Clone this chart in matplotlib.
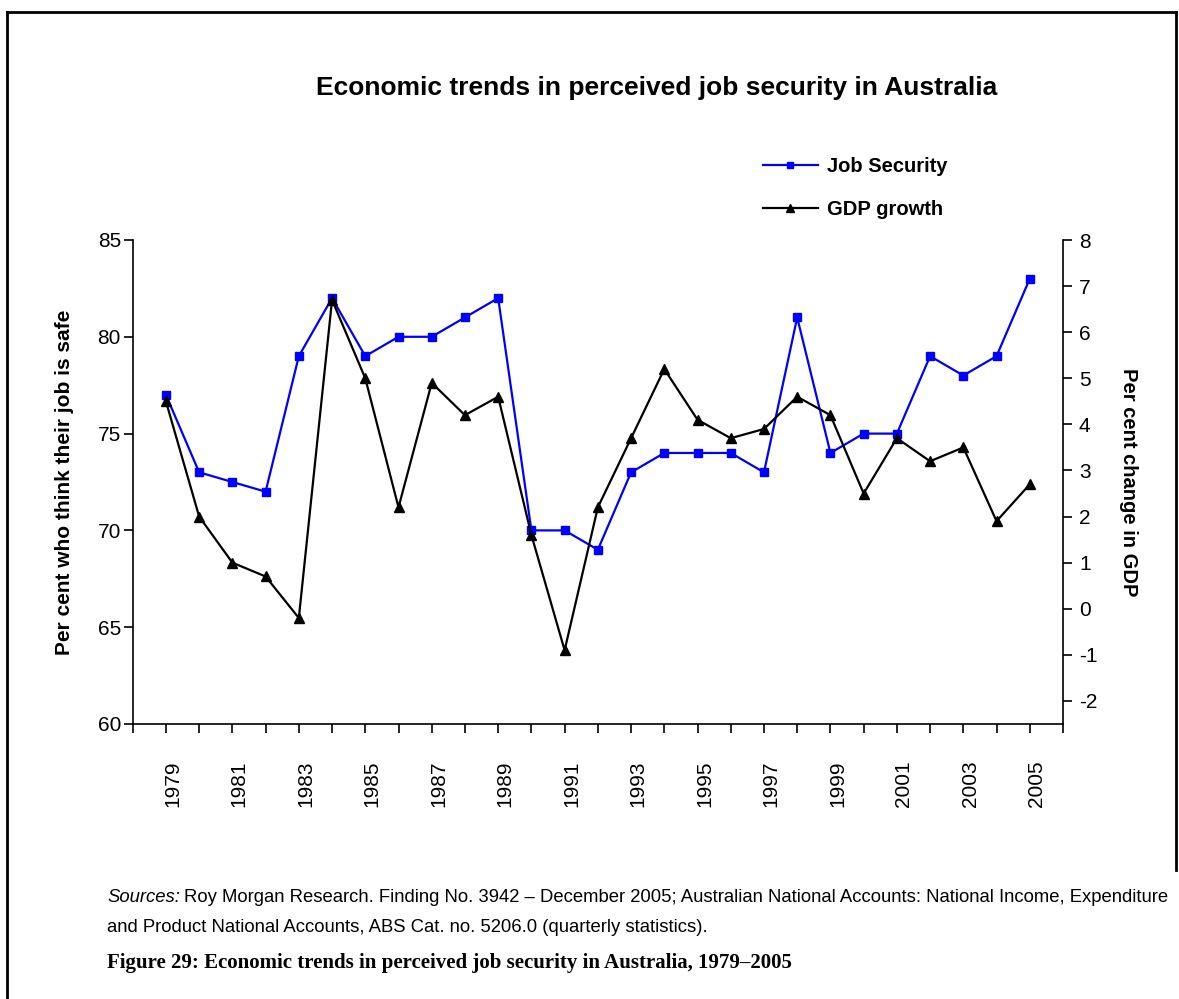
import matplotlib
matplotlib.use("Agg")
import matplotlib.pyplot as plt
import matplotlib.transforms as mtransforms
from matplotlib.lines import Line2D

years = list(range(1979, 2006))
job_security = [77, 73, 72.5, 72, 79, 82, 79, 80, 80, 81, 82, 70, 70, 69,
                73, 74, 74, 74, 73, 81, 74, 75, 75, 79, 78, 79, 83]
gdp_growth = [4.5, 2.0, 1.0, 0.7, -0.2, 6.7, 5.0, 2.2, 4.9, 4.2, 4.6, 1.6, -0.9, 2.2,
              3.7, 5.2, 4.1, 3.7, 3.9, 4.6, 4.2, 2.5, 3.7, 3.2, 3.5, 1.9, 2.7]

W, H = 1179, 999
plt.rcParams['font.family'] = ['Liberation Sans', 'DejaVu Sans']
plt.rcParams['axes.unicode_minus'] = False

fig = plt.figure(figsize=(W / 100, H / 100), dpi=100)
ax = fig.add_axes([132.7 / W, 1 - 724 / H, (1063 - 132.7) / W, (724 - 240) / H])
ax2 = ax.twinx()

ax.plot(years, job_security, color='#0000ff', lw=1.6, marker='s', ms=6,
        label='Job Security', zorder=3)
ax2.plot(years, gdp_growth, color='black', lw=1.6, marker='^', ms=7,
         label='GDP growth', zorder=3)

ax.set_xlim(1978, 2006)
ax.set_ylim(60, 85)
ax.set_yticks(range(60, 86, 5))
ax2.set_ylim(-2.5, 8)
ax2.set_yticks(range(-2, 9))

ax.set_xticks(range(1979, 2006, 2))
ax.set_xticks(range(1978, 2007), minor=True)
ax.tick_params(axis='x', which='both', direction='out', length=6.5, width=1.2,
               labelsize=15, rotation=90, pad=20)
ax.tick_params(axis='y', direction='out', length=6.5, width=1.2, labelsize=15, pad=2)
ax2.tick_params(axis='y', direction='out', length=6.5, width=1.2, labelsize=15, pad=5)

# nudge the rotated year labels a little to the right of their ticks
shift = mtransforms.ScaledTranslation(7 / 100, 0, fig.dpi_scale_trans)
for lab in ax.get_xticklabels():
    lab.set_transform(lab.get_transform() + shift)

for s in ['top', 'right']:
    ax.spines[s].set_visible(False)
for s in ['top', 'left', 'bottom']:
    ax2.spines[s].set_visible(False)
for sp in [ax.spines['left'], ax.spines['bottom'], ax2.spines['right']]:
    sp.set_linewidth(1.2)

ax.set_ylabel('Per cent who think their job is safe', fontsize=15, fontweight='bold',
              labelpad=17)
ax2.set_ylabel('Per cent change in GDP', fontsize=14.5, fontweight='bold',
               rotation=-90, labelpad=29)

fig.text(657 / W, 1 - 88 / H, 'Economic trends in perceived job security in Australia',
         ha='center', va='center', fontsize=19, fontweight='bold')

h1, l1 = ax.get_legend_handles_labels()
h2, l2 = ax2.get_legend_handles_labels()
fig.legend(h1 + h2, l1 + l2, loc='upper left', bbox_to_anchor=(745 / W, 1 - 139 / H),
           frameon=False, prop={'size': 14.5, 'weight': 'bold'}, handlelength=2.7,
           handletextpad=0.45, labelspacing=1.2, markerscale=0.8)

# source note: italic lead-in followed by regular text
renderer = fig.canvas.get_renderer()
t0 = fig.text(107 / W, 1 - 898 / H, 'Sources:', fontsize=13.3, style='italic', va='center')
bb = t0.get_window_extent(renderer)
fig.text((bb.x1 + 4) / W, 1 - 898 / H,
         'Roy Morgan Research. Finding No. 3942 \u2013 December 2005; Australian National '
         'Accounts: National Income, Expenditure', fontsize=13.3, va='center')
fig.text(107 / W, 1 - 927 / H,
         'and Product National Accounts, ABS Cat. no. 5206.0 (quarterly statistics).',
         fontsize=13.3, va='center')

fig.text(107 / W, 1 - 963 / H,
         'Figure 29: Economic trends in perceived job security in Australia, 1979\u20132005',
         fontsize=15, fontweight='bold', family=['Liberation Serif'], va='center')

# page frame
fig.add_artist(Line2D([7.5 / W, 7.5 / W], [0, 1 - 11.5 / H], color='black', lw=2))
fig.add_artist(Line2D([7.5 / W, 1176 / W], [1 - 11.5 / H, 1 - 11.5 / H], color='black', lw=2))
fig.add_artist(Line2D([1176 / W, 1176 / W], [1 - 11.5 / H, 1 - 870 / H], color='black', lw=2))

fig.savefig('out.png', dpi=100)
